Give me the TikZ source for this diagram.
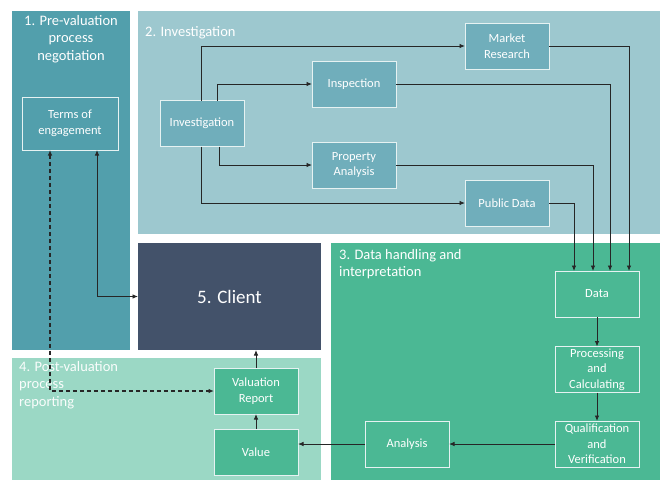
\documentclass[tikz,border=0pt]{standalone}
\usepackage{fontspec}
\setmainfont{Carlito}
\usetikzlibrary{arrows.meta}
\definecolor{pone}{HTML}{529FAC}
\definecolor{ptwo}{HTML}{9DC8CF}
\definecolor{ptwobox}{HTML}{70AEBB}
\definecolor{pthree}{HTML}{4BB894}
\definecolor{pfour}{HTML}{9BD8C5}
\definecolor{clientc}{HTML}{43526A}
\definecolor{linec}{HTML}{262626}
\definecolor{bordc}{HTML}{E6F2F2}
\tikzset{
  panel/.style={draw=none, inner sep=0pt, outer sep=0pt},
  box/.style={draw=bordc, line width=0.9pt, inner sep=0pt, outer sep=0pt, minimum width=84pt, minimum height=46pt, text=white, align=center, font=\fontsize{12.5}{15.5}\selectfont},
  ptitle/.style={text=white, font=\fontsize{14.5}{17.5}\selectfont, inner sep=0pt},
  arr/.style={draw=linec, line width=0.9pt, -{Latex[length=5.5pt,width=4.5pt]}},
  darr/.style={draw=linec, line width=1.1pt, dash pattern=on 4pt off 3pt, {Latex[length=5.5pt,width=4.5pt]}-{Latex[length=5.5pt,width=4.5pt]}},
  sarr/.style={draw=linec, line width=0.9pt, {Latex[length=5.5pt,width=4.5pt]}-{Latex[length=5.5pt,width=4.5pt]}},
  ln/.style={draw=linec, line width=0.9pt}
}
\begin{document}
\begin{tikzpicture}[x=1pt,y=-1pt]
\useasboundingbox (0,0) rectangle (660,480);
\fill[white] (0,0) rectangle (660,480);
% panels
\node[panel, fill=pone, minimum width=118pt, minimum height=339pt] (p1) at (71,180.5) {};
\node[panel, fill=ptwo, minimum width=522pt, minimum height=223pt] (p2) at (399,122.5) {};
\node[panel, fill=pthree, minimum width=329pt, minimum height=237pt] (p3) at (495.5,361.5) {};
\node[panel, fill=pfour, minimum width=309pt, minimum height=122pt] (p4) at (166.5,419) {};
\node[panel, fill=clientc, minimum width=183pt, minimum height=107pt, text=white, font=\fontsize{19}{22}\selectfont] (client) at (229.5,296.5) {5. Client};
% titles
\node[ptitle, align=center] (t1) at (71,39) {1. Pre-valuation\\process\\negotiation};
\node[ptitle, anchor=west] (t2) at (145,33) {2. Investigation};
\node[ptitle, anchor=north west, align=left] (t3) at (339,249) {3. Data handling and\\interpretation};
\node[ptitle, anchor=north west, align=left, text=white!95!pfour] (t4) at (19,361) {4. Post-valuation\\process\\reporting};
% boxes
\node[box, fill=pone, minimum width=96pt, minimum height=53pt] (terms) at (70,123.5) {Terms of\\engagement};
\node[box, fill=ptwobox] (inv) at (202,123.5) {Investigation};
\node[box, fill=ptwobox] (insp) at (354,84) {Inspection};
\node[box, fill=ptwobox] (pa) at (354,165) {Property\\Analysis};
\node[box, fill=ptwobox] (mr) at (507,46) {Market\\Research};
\node[box, fill=ptwobox] (pd) at (507,203) {Public Data};
\node[box, fill=pthree] (data) at (597,294) {Data};
\node[box, fill=pthree] (proc) at (597,369.5) {Processing\\and\\Calculating};
\node[box, fill=pthree] (qual) at (597,444) {Qualification\\and\\Verification};
\node[box, fill=pthree] (ana) at (407,444) {Analysis};
\node[box, fill=pthree] (val) at (256,452) {Value};
\node[box, fill=pthree] (vr) at (256,391) {Valuation\\Report};
% connectors
\draw[arr] ([xshift=-1pt]inv.north) |- (mr.west);
\draw[arr] ([xshift=15pt]inv.north) |- (insp.west);
\draw[arr] ([xshift=17pt]inv.south) |- (pa.west);
\draw[arr] ([xshift=-1pt]inv.south) |- (pd.west);
\draw[arr] (mr.east) -| ([xshift=32pt]data.north);
\draw[arr] (insp.east) -| ([xshift=13pt]data.north);
\draw[arr] (pa.east) -| ([xshift=-4pt]data.north);
\draw[arr] (pd.east) -| ([xshift=-23pt]data.north);
\draw[arr] (data.south) -- (proc.north);
\draw[arr] (proc.south) -- (qual.north);
\draw[arr] (qual.west) -- (ana.east);
\draw[arr] (ana.west) -- (ana.west -| val.east);
\draw[arr] (val.north) -- (vr.south);
\draw[arr] (vr.north) -- (vr.north |- client.south);
\draw[sarr] ([xshift=27pt]terms.south) |- (client.west);
\draw[darr] ([xshift=-20pt]terms.south) |- (vr.west);
\end{tikzpicture}
\end{document}
